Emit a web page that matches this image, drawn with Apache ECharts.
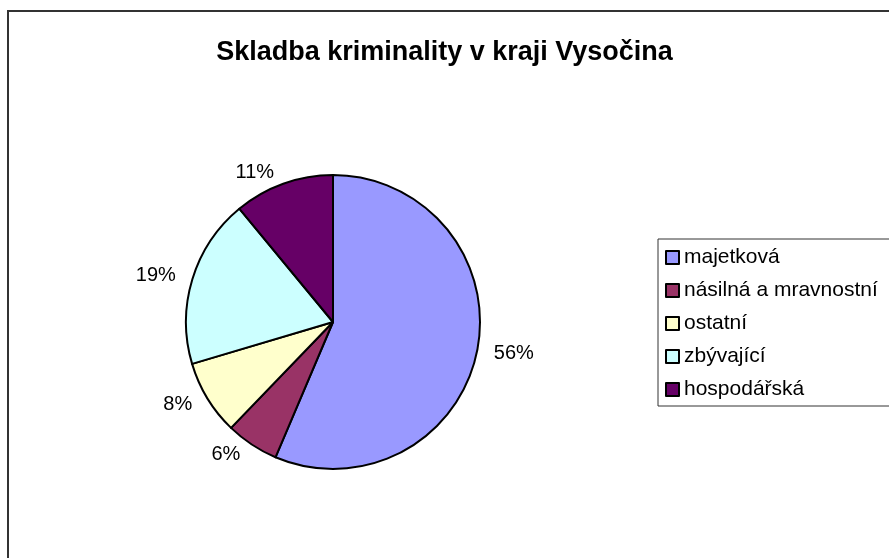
<!DOCTYPE html>
<html>
<head>
<meta charset="utf-8">
<script src="https://cdn.jsdelivr.net/npm/echarts@6/dist/echarts.min.js"></script>
<style>
html, body { margin: 0; padding: 0; background: #fff; }
#chart { width: 889px; height: 558px; }
</style>
</head>
<body>
<div id="chart"></div>
<script>
// kategorie a hodnoty (podíl v %)
var categories = ['majetková', 'násilná a mravnostní', 'ostatní', 'zbývající', 'hospodářská'];
var values = [56.4, 5.8, 8.2, 18.6, 11.0];
var colors = ['#9999FF', '#993366', '#FFFFCC', '#CCFFFF', '#660066'];

var chart = echarts.init(document.getElementById('chart'));

var pieData = categories.map(function (name, i) {
    return { name: name, value: values[i], itemStyle: { color: colors[i] } };
});

var option = {
    backgroundColor: '#fff',
    animation: false,
    textStyle: { fontFamily: 'Liberation Sans, Arial, sans-serif' },
    title: {
        text: 'Skladba kriminality v kraji Vysočina',
        left: 'center',
        top: 34,
        textStyle: {
            fontSize: 27,
            fontWeight: 'bold',
            color: '#000',
            fontFamily: 'Liberation Sans, Arial, sans-serif'
        }
    },
    // rámeček grafu
    graphic: [{
        type: 'rect',
        shape: { x: 8, y: 11, width: 900, height: 600 },
        style: { fill: 'none', stroke: '#333', lineWidth: 2 },
        silent: true
    }],
    legend: {
        orient: 'vertical',
        left: 658,
        top: 239,
        itemWidth: 13,
        itemHeight: 13,
        itemGap: 12,
        padding: [8, 30, 6, 7],
        borderColor: '#333',
        borderWidth: 1,
        icon: 'rect',
        itemStyle: { borderColor: '#000', borderWidth: 2 },
        textStyle: { fontSize: 21, lineHeight: 21, color: '#000' },
        data: categories
    },
    series: [{
        type: 'pie',
        center: [333, 322],
        radius: 147,
        startAngle: 90,
        clockwise: true,
        silent: true,
        itemStyle: { borderColor: '#000', borderWidth: 2 },
        label: {
            show: true,
            position: 'outside',
            fontSize: 20,
            color: '#000',
            formatter: function (p) { return Math.round(p.percent) + '%'; }
        },
        labelLine: { show: false, length: 12, length2: 0 },
        data: pieData
    }]
};

chart.setOption(option);
</script>
</body>
</html>
